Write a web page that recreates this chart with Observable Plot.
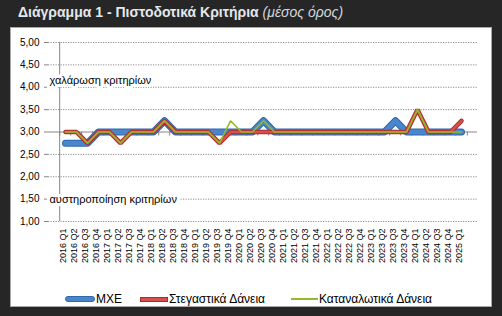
<!DOCTYPE html>
<html>
<head>
<meta charset="utf-8">
<script src="https://cdn.jsdelivr.net/npm/d3@7"></script>
<script src="https://cdn.jsdelivr.net/npm/@observablehq/plot@0.6"></script>
<style>
  html, body { margin: 0; padding: 0; }
  body { width: 502px; height: 316px; background: #262626; overflow: hidden; position: relative; font-family: "Liberation Sans", Arial, sans-serif; }
  #title { position: absolute; left: 18px; top: 3px; font-size: 14px; line-height: 18px; font-weight: bold; color: #e3e8ee; white-space: nowrap; }
  #title i { font-weight: normal; color: #d4d8dd; }
  #panel { position: absolute; left: 10px; top: 27px; width: 482px; height: 280px; box-sizing: border-box; background: #fff; border: 1px solid #a8a8a8; }
  #chart { position: absolute; left: 0; top: 0; }
  #legend { position: absolute; left: 0; top: 263px; width: 480px; height: 16px; font-size: 12px; line-height: 16px; color: #000; }
  .sw { position: absolute; }
  .lt { position: absolute; top: 0; white-space: nowrap; }
</style>
</head>
<body>
<div id="title">Διάγραμμα 1 - Πιστοδοτικά Κριτήρια <i>(μέσος όρος)</i></div>
<div id="panel">
  <div id="chart"></div>
  <div id="legend"></div>
</div>
<script>
const quarters = [
  "2016 Q1","2016 Q2","2016 Q3","2016 Q4",
  "2017 Q1","2017 Q2","2017 Q3","2017 Q4",
  "2018 Q1","2018 Q2","2018 Q3","2018 Q4",
  "2019 Q1","2019 Q2","2019 Q3","2019 Q4",
  "2020 Q1","2020 Q2","2020 Q3","2020 Q4",
  "2021 Q1","2021 Q2","2021 Q3","2021 Q4",
  "2022 Q1","2022 Q2","2022 Q3","2022 Q4",
  "2023 Q1","2023 Q2","2023 Q3","2023 Q4",
  "2024 Q1","2024 Q2","2024 Q3","2024 Q4",
  "2025 Q1"
];
const seriesNames = ["ΜΧΕ", "Στεγαστικά Δάνεια", "Καταναλωτικά Δάνεια"];
const mxe = [2.75,2.75,2.75,3,3,3,3,3,3,3.25,3,3,3,3,3,3,3,3,3.25,3,3,3,3,3,3,3,3,3,3,3,3.25,3,3,3,3,3,3];
const housing = [3,3,2.75,3,3,2.75,3,3,3,3.25,3,3,3,3,2.75,3,3,3,3,3,3,3,3,3,3,3,3,3,3,3,3,3,3.5,3,3,3,3.25];
const consumer = [3,3,2.75,3,3,2.75,3,3,3,3.25,3,3,3,3,2.75,3.25,3,3,3.25,3,3,3,3,3,3,3,3,3,3,3,3,3,3.5,3,3,3,3];
const yTicks = [1,1.5,2,2.5,3,3.5,4,4.5,5];
const notes = [
  {text: "χαλάρωση κριτηρίων", y: 4.15},
  {text: "αυστηροποίηση κριτηρίων", y: 1.5}
];

const tbl = arr => quarters.map((q, i) => ({q, v: arr[i]}));
const W = 480, ML = 37, MR = 14;
const step = (W - ML - MR) / quarters.length;
const fmt = d => d.toFixed(2).replace(".", ",");

const chart = Plot.plot({
  width: W, height: 245,
  marginLeft: ML, marginRight: MR, marginTop: 14, marginBottom: 52,
  style: {fontFamily: "Liberation Sans, Arial, sans-serif", background: "transparent", overflow: "visible"},
  x: {type: "point", domain: quarters, padding: 0.5, axis: null},
  y: {domain: [1, 5], axis: null},
  marks: [
    Plot.ruleY(yTicks.filter(d => d !== 3), {stroke: "#8a8a8a", strokeDasharray: "1.2,1.3", strokeWidth: 1}),
    Plot.axisY({ticks: yTicks, tickFormat: fmt, tickSize: 4, tickPadding: 5, fontSize: 10, stroke: "#868686", color: "#000"}),
    Plot.ruleX([quarters[0]], {dx: -step / 2, stroke: "#868686"}),
    Plot.ruleY([3], {stroke: "#868686"}),
    Plot.ruleX(quarters, {x: d => d, y1: 3, y2: 2.91, dx: -step / 2, stroke: "#868686"}),
    Plot.ruleX([quarters[quarters.length - 1]], {y1: 3, y2: 2.91, dx: step / 2, stroke: "#868686"}),
    Plot.text(quarters, {x: d => d, frameAnchor: "bottom", rotate: -90, textAnchor: "end", dy: 7, fontSize: 9, fill: "#000"}),
    Plot.text(notes, {y: "y", text: "text", frameAnchor: "left", textAnchor: "start", dx: 1, fontSize: 11, fill: "#000", stroke: "white", strokeWidth: 6}),
    Plot.line(tbl(mxe), {x: "q", y: "v", stroke: "#2e67ad", strokeWidth: 7, strokeLinejoin: "round", strokeLinecap: "round"}),
    Plot.line(tbl(mxe), {x: "q", y: "v", stroke: "#4a86cc", strokeWidth: 5, strokeLinejoin: "round", strokeLinecap: "round"}),
    Plot.line(tbl(housing), {x: "q", y: "v", stroke: "#a82d2a", strokeWidth: 4.5, strokeLinejoin: "miter"}),
    Plot.line(tbl(housing), {x: "q", y: "v", stroke: "#d8504b", strokeWidth: 2.5, strokeLinejoin: "miter"}),
    Plot.line(tbl(consumer), {x: "q", y: "v", stroke: "#93b92c", strokeWidth: 1.6, strokeLinejoin: "miter"})
  ]
});
document.getElementById("chart").appendChild(chart);

const legend = document.getElementById("legend");
const items = [
  {name: seriesNames[0], sx: 54, sw: 30, style: "top:5px;height:6px;background:#4a86cc;border:1px solid #2e67ad;border-radius:4px;box-sizing:border-box;"},
  {name: seriesNames[1], sx: 129, sw: 28, style: "top:6px;height:5px;background:#d8504b;border:1px solid #a82d2a;box-sizing:border-box;"},
  {name: seriesNames[2], sx: 280, sw: 27, style: "top:7px;height:2px;background:#93b92c;"}
];
items.forEach(it => {
  const s = document.createElement("div");
  s.className = "sw";
  s.style.cssText = `left:${it.sx}px;width:${it.sw}px;` + it.style;
  legend.appendChild(s);
  const t = document.createElement("div");
  t.className = "lt";
  t.style.left = (it.sx + it.sw + 1) + "px";
  t.textContent = it.name;
  legend.appendChild(t);
});
</script>
</body>
</html>
